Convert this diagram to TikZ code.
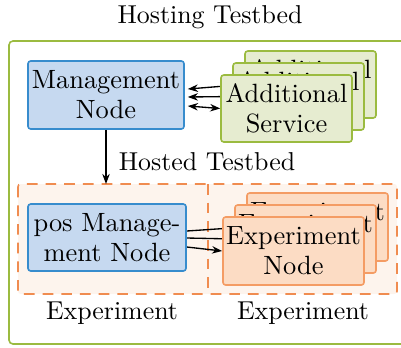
\documentclass[tikz,border=0pt]{standalone}
\usepackage{fontspec}
\usetikzlibrary{arrows.meta,backgrounds,calc}
\definecolor{bluefill}{RGB}{198,217,240}
\definecolor{blueline}{RGB}{55,140,205}
\definecolor{greenfill}{RGB}{230,236,208}
\definecolor{greenline}{RGB}{155,187,64}
\definecolor{orangefill}{RGB}{252,220,196}
\definecolor{orangeline}{RGB}{244,156,100}
\definecolor{dashline}{RGB}{240,140,80}
\definecolor{dashfill}{RGB}{253,244,237}
\tikzset{
  box/.style={draw, line width=0.6pt, rounded corners=1pt, align=center, inner sep=0pt, font=\rmfamily\fontsize{9.9}{11.3}\selectfont},
  bluebox/.style={box, draw=blueline, fill=bluefill},
  greenbox/.style={box, draw=greenline, fill=greenfill, minimum width=49.1pt, minimum height=25.1pt},
  orangebox/.style={box, draw=orangeline, fill=orangefill, minimum width=52.9pt, minimum height=25.5pt},
  lbl/.style={font=\rmfamily\fontsize{9.7}{12}\selectfont, inner sep=0pt},
  arr/.style={-{Stealth[length=3.8pt,width=2.8pt]}, line width=0.5pt},
  darr/.style={{Stealth[length=3.8pt,width=2.8pt]}-{Stealth[length=3.8pt,width=2.8pt]}, line width=0.5pt}
}
\begin{document}
\begin{tikzpicture}[x=0.375pt,y=-0.375pt]
\useasboundingbox (0,0) rectangle (401,347);
% title
\node[lbl] (title) at (210,17) {Hosting Testbed};
% nodes
\node[bluebox, minimum width=58.5pt, minimum height=25.5pt] (mgmt) at (106,95) {Management\\Node};
\node[greenbox] (as3) at (310.5,84.5) {Additional\\Service};
\node[greenbox] (as2) at (298.5,96.5) {Additional\\Service};
\node[greenbox] (as1) at (286.5,108.5) {Additional\\Service};
\node[bluebox, minimum width=59.25pt, minimum height=25.1pt] (pos) at (107,237.5) {pos Manage-\\ment Node};
\node[orangebox] (ex3) at (317.5,227) {Experiment\\Node};
\node[orangebox] (ex2) at (305.5,239) {Experiment\\Node};
\node[orangebox] (ex1) at (293.5,251) {Experiment\\Node};
\node[lbl] (hosted) at (207,162) {Hosted Testbed};
\node[lbl] (explA) at (112,313) {Experiment};
\node[lbl] (explB) at (303,313) {Experiment};
\coordinate (dtl) at (18,184);
\coordinate (dbr) at (397,294);
\coordinate (dtop) at (208,184);
\coordinate (dbot) at (208,294);
\coordinate (otl) at (9,41);
\coordinate (obr) at (412,344);
\begin{scope}[on background layer]
  \draw[greenline, line width=0.6pt, rounded corners=1.5pt] (otl) rectangle (obr);
  \draw[dashline, fill=dashfill, line width=0.6pt, dash pattern=on 4pt off 3pt, rounded corners=1pt] (dtl) rectangle (dbr);
  \draw[dashline, line width=0.6pt, dash pattern=on 4pt off 3pt] (dtop) -- (dbot);
  \draw[arr] (as3.west) -- ($(mgmt.east)+(3,-6)$);
  \draw[arr] (as2.west) -- ($(mgmt.east)+(3,2)$);
  \draw[darr] (as1.west) -- ($(mgmt.east)+(3,11)$);
  \draw[arr] ($(pos.east)+(0,-6.5)$) -- (ex3.west);
  \draw[arr] ($(pos.east)+(0,0.5)$) -- (ex2.west);
  \draw[arr] ($(pos.east)+(0,9.5)$) -- (ex1.west);
\end{scope}
\draw[arr] (mgmt.south) -- (mgmt.south |- dtl);
\end{tikzpicture}
\end{document}
